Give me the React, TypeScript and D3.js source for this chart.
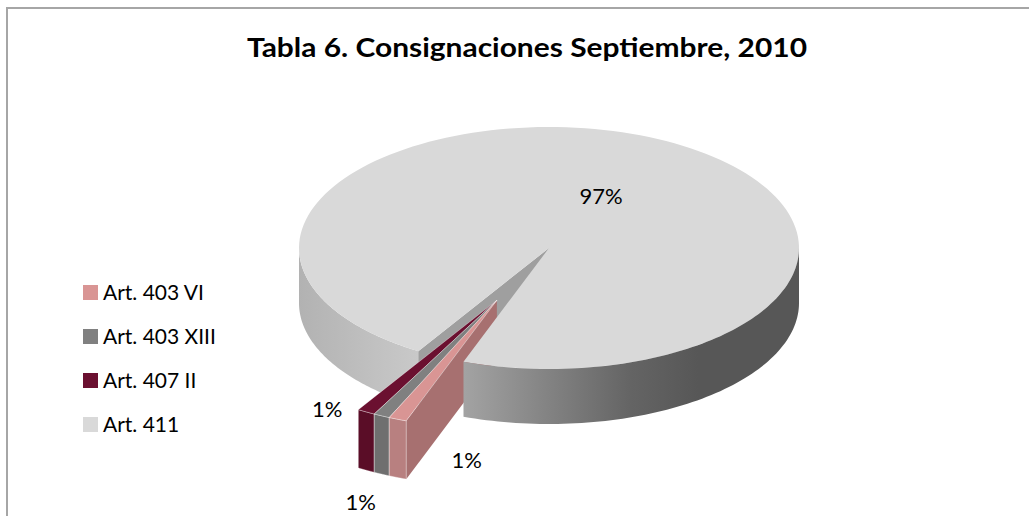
import React from "react";
import * as d3 from "d3";

// ---- data ----
const categories = ["Art. 403 VI", "Art. 403 XIII", "Art. 407 II", "Art. 411"];
const values = [1.1, 1.0, 1.1, 96.8];
const colors = ["#d99594", "#808080", "#6b1030", "#d9d9d9"];
const wallColors = ["#b88080", "#6f6f6f", "#5a0d27"];
const explodedFlags = [true, true, true, false];
const title = "Tabla 6. Consignaciones Septiembre, 2010";
// label offsets (layout) relative to each exploded slice's outer rim mid-point
const labelOffsets: [number, number][] = [
  [69, 49],
  [-21, 94],
  [-39, 5],
];

// ---- layout ----
const W = 1029;
const H = 516;
const CX = 549;
const CY = 248;
const RX = 250;
const RY = 121;
const DEPTH = 55;
const START_DEG = 200;
const EXPLODE = 0.48;
const NEAR_SCALE = 1.06;
const FONT = "Lato, 'Open Sans', sans-serif";

type Pt = [number, number];
type Origin = { x: number; y: number; s: number };

const proj = (o: Origin, phi: number, r: number, z: number): Pt => [
  o.x + o.s * RX * r * Math.cos(phi),
  o.y + o.s * RY * r * Math.sin(phi) + o.s * z,
];

const rimPts = (o: Origin, a: number, b: number, z: number, n = 80): Pt[] => {
  const pts: Pt[] = [];
  for (let i = 0; i <= n; i++) pts.push(proj(o, a + ((b - a) * i) / n, 1, z));
  return pts;
};

const line = d3.line<Pt>().curve(d3.curveLinear);
const closed = (pts: Pt[]) => (line(pts) || "") + "Z";

const wallPath = (o: Origin, a: number, b: number) =>
  closed([...rimPts(o, a, b, 0), ...rimPts(o, a, b, DEPTH).reverse()]);
const facePath = (o: Origin, phi: number) =>
  closed([proj(o, phi, 0, 0), proj(o, phi, 1, 0), proj(o, phi, 1, DEPTH), proj(o, phi, 0, DEPTH)]);
const topPath = (o: Origin, a: number, b: number) => closed([proj(o, a, 0, 0), ...rimPts(o, a, b, 0, 160)]);

// front-facing parts of [a,b]
const frontRanges = (a: number, b: number): [number, number][] => {
  const out: [number, number][] = [];
  for (let k = -1; k <= 2; k++) {
    const lo = Math.max(a, 2 * Math.PI * k);
    const hi = Math.min(b, 2 * Math.PI * k + Math.PI);
    if (hi > lo) out.push([lo, hi]);
  }
  return out;
};

export default function App() {
  const total = d3.sum(values);
  const st = (START_DEG * Math.PI) / 180;
  const arcs = d3
    .pie<number>()
    .sort(null)
    .value((d) => d)
    .startAngle(st)
    .endAngle(st + 2 * Math.PI)(values);
  const toPhi = (a: number) => a - Math.PI / 2;
  const pct = d3.format(".0%");

  const exIdx = values.map((_, i) => i).filter((i) => explodedFlags[i]);
  const gStart = toPhi(arcs[exIdx[0]].startAngle);
  const gEnd = toPhi(arcs[exIdx[exIdx.length - 1]].endAngle);
  const gMid = (gStart + gEnd) / 2;
  const main: Origin = { x: CX, y: CY, s: 1 };
  const ex: Origin = {
    x: CX + EXPLODE * RX * Math.cos(gMid),
    y: CY + EXPLODE * RY * Math.sin(gMid),
    s: NEAR_SCALE,
  };

  const mainIdx = values.findIndex((_, i) => !explodedFlags[i]);
  const ma = toPhi(arcs[mainIdx].startAngle);
  const mb = toPhi(arcs[mainIdx].endAngle);
  const mainWalls = frontRanges(ma, mb);
  const leftWalls = mainWalls.filter(([a]) => Math.cos(a) < 0 && a < Math.PI + 0.001 && a > Math.PI / 2);
  const rightWalls = mainWalls.filter((w) => !leftWalls.includes(w));

  const xAt = (o: Origin, phi: number) => proj(o, phi, 1, 0)[0];

  const elements: React.ReactNode[] = [];

  leftWalls.forEach(([a, b], i) => {
    elements.push(<path key={`lw${i}`} d={wallPath(main, a, b)} fill={`url(#gradL${i})`} />);
  });
  if (Math.cos(ma) < 0) elements.push(<path key="mface" d={facePath(main, ma)} fill="#9f9f9f" />);
  if (Math.cos(gStart) < 0)
    elements.push(<path key="exface" d={facePath(ex, gStart)} fill="#a77070" />);
  elements.push(<path key="mtop" d={topPath(main, ma, mb)} fill={colors[mainIdx]} />);
  rightWalls.forEach(([a, b], i) => {
    elements.push(<path key={`rw${i}`} d={wallPath(main, a, b)} fill={`url(#gradR${i})`} />);
  });
  const exOrder = [...exIdx].reverse();
  exOrder.forEach((i) => {
    const a = toPhi(arcs[i].startAngle);
    const b = toPhi(arcs[i].endAngle);
    frontRanges(a, b).forEach(([lo, hi], k) => {
      elements.push(
        <path key={`ew${i}-${k}`} d={wallPath(ex, lo, hi)} fill={wallColors[i]} stroke="#ffffff" strokeOpacity={0.45} strokeWidth={0.8} />
      );
    });
    elements.push(
      <path key={`et${i}`} d={topPath(ex, a, b)} fill={colors[i]} stroke="#ffffff" strokeOpacity={0.45} strokeWidth={0.8} />
    );
  });

  const labels: React.ReactNode[] = [];
  const mMid = (ma + mb) / 2;
  const mp = proj(main, mMid, 0.48, 0);
  labels.push(
    <text key="lm" x={mp[0]} y={mp[1] + 8} textAnchor="middle" fontFamily={FONT} fontSize={22} fill="#000">
      {pct(values[mainIdx] / total)}
    </text>
  );
  exIdx.forEach((i, j) => {
    const a = toPhi(arcs[i].startAngle);
    const b = toPhi(arcs[i].endAngle);
    const p = proj(ex, (a + b) / 2, 1, 0);
    const off = labelOffsets[j];
    labels.push(
      <text key={`l${i}`} x={p[0] + off[0]} y={p[1] + off[1]} textAnchor="middle" fontFamily={FONT} fontSize={22} fill="#000">
        {pct(values[i] / total)}
      </text>
    );
  });

  return (
    <svg width={W} height={H} style={{ position: "absolute", left: 0, top: 0 }}>
      <defs>
        {leftWalls.map(([a, b], i) => (
          <linearGradient key={i} id={`gradL${i}`} gradientUnits="userSpaceOnUse" x1={xAt(main, b)} x2={xAt(main, a)} y1={0} y2={0}>
            <stop offset="0" stopColor="#b2b2b2" />
            <stop offset="1" stopColor="#c9c9c9" />
          </linearGradient>
        ))}
        {rightWalls.map(([a, b], i) => (
          <linearGradient key={i} id={`gradR${i}`} gradientUnits="userSpaceOnUse" x1={xAt(main, b)} x2={xAt(main, a)} y1={0} y2={0}>
            <stop offset="0" stopColor="#a3a3a3" />
            <stop offset="0.25" stopColor="#838383" />
            <stop offset="0.5" stopColor="#646464" />
            <stop offset="0.7" stopColor="#575757" />
            <stop offset="1" stopColor="#575757" />
          </linearGradient>
        ))}
      </defs>
      <rect x={0} y={0} width={W} height={H} fill="#ffffff" />
      <line x1={6} y1={8} x2={W} y2={8} stroke="#a6a6a6" strokeWidth={2} />
      <line x1={7} y1={7} x2={7} y2={H} stroke="#a6a6a6" strokeWidth={2} />
      <text x={247} y={57} fontFamily={FONT} fontWeight="bold" fontSize={26.5} textLength={560} lengthAdjust="spacingAndGlyphs" fill="#000">
        {title}
      </text>
      {elements}
      {labels}
      {categories.map((c, i) => (
        <g key={c} transform={`translate(83, ${285 + i * 44})`}>
          <rect x={0} y={0} width={15} height={15} fill={colors[i]} />
          <text x={20} y={14.5} fontFamily={FONT} fontSize={21} fill="#000">
            {c}
          </text>
        </g>
      ))}
    </svg>
  );
}
